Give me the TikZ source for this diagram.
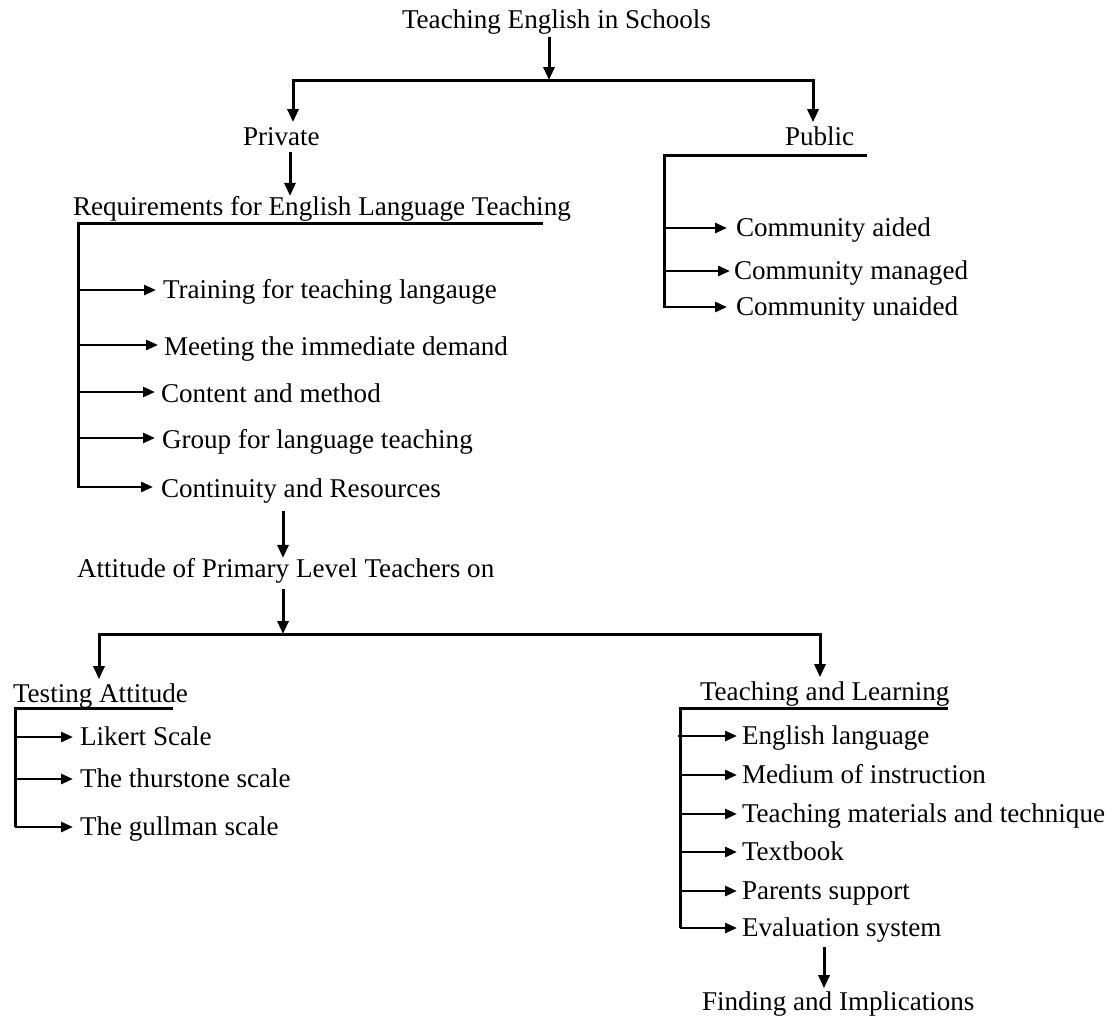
\documentclass[tikz,border=0pt]{standalone}
\usepackage{fontspec}
\setmainfont{Liberation Serif}
\usetikzlibrary{arrows.meta}
\begin{document}
\begin{tikzpicture}[x=1pt,y=-1pt,
  txt/.style={inner sep=0pt,outer sep=0pt,anchor=base west,font=\fontsize{27.1pt}{32pt}\selectfont},
  ln/.style={line width=3pt,line join=miter},
  varr/.style={line width=3pt,line join=miter,-{Triangle[length=13pt,width=11pt]}},
  harr/.style={line width=2.7pt,-{Triangle[length=12pt,width=10pt]}}]
\useasboundingbox (0,0) rectangle (1116,1017);

% ---------- text nodes ----------
\node[txt] (title)   at (402,28)  {Teaching English in Schools};
\node[txt] (private) at (243,145) {Private};
\node[txt] (public)  at (785,145) {Public};
\node[txt] (req)     at (73,215)  {Requirements for English Language Teaching};
\node[txt] (r1) at (163,298) {Training for teaching langauge};
\node[txt] (r2) at (164,355) {Meeting the immediate demand};
\node[txt] (r3) at (161,402) {Content and method};
\node[txt] (r4) at (162,448) {Group for language teaching};
\node[txt] (r5) at (161,497) {Continuity and Resources};
\node[txt] (p1) at (736,236) {Community aided};
\node[txt] (p2) at (734,279) {Community managed};
\node[txt] (p3) at (736,315) {Community unaided};
\node[txt] (att)  at (77,577)  {Attitude of Primary Level Teachers on};
\node[txt] (test) at (13,702)  {Testing Attitude};
\node[txt] (t1) at (80,745) {Likert Scale};
\node[txt] (t2) at (80,787) {The thurstone scale};
\node[txt] (t3) at (80,835) {The gullman scale};
\node[txt] (tl) at (700,700) {Teaching and Learning};
\node[txt] (l1) at (742,744) {English language};
\node[txt] (l2) at (742,783) {Medium of instruction};
\node[txt] (l3) at (742,822) {Teaching materials and technique};
\node[txt] (l4) at (742,860) {Textbook};
\node[txt] (l5) at (742,899) {Parents support};
\node[txt] (l6) at (742,936) {Evaluation system};
\node[txt] (find) at (702,1010) {Finding and Implications};

% ---------- junction coordinates ----------
\coordinate (j1) at (549,80);
\coordinate (bL) at (293,80);
\coordinate (bR) at (813,80);
\coordinate (c2) at (290,0);
\coordinate (rqe) at (543,223);
\coordinate (rqc) at (78,223);
\coordinate (rqb) at (78,488);
\coordinate (pue) at (867,155);
\coordinate (puc) at (664,155);
\coordinate (pub) at (664,308);
\coordinate (c3) at (283,0);
\coordinate (j2) at (283,634);
\coordinate (b2L) at (99,634);
\coordinate (b2R) at (820,634);
\coordinate (tue) at (173,708);
\coordinate (tuc) at (15,708);
\coordinate (tub) at (15,827);
\coordinate (lue) at (948,708);
\coordinate (luc) at (680,708);
\coordinate (lub) at (680,928);
\coordinate (c4) at (824,0);

% ---------- arrow tip coordinates ----------
\coordinate (r1t) at ([xshift=-7pt,yshift=8pt]r1.base west);
\coordinate (r2t) at ([xshift=-6pt,yshift=10pt]r2.base west);
\coordinate (r3t) at ([xshift=-6pt,yshift=10pt]r3.base west);
\coordinate (r4t) at ([xshift=-7pt,yshift=10pt]r4.base west);
\coordinate (r5t) at ([xshift=-8pt,yshift=10pt]r5.base west);
\coordinate (p1t) at ([xshift=-9pt,yshift=8pt]p1.base west);
\coordinate (p2t) at ([xshift=-4pt,yshift=8pt]p2.base west);
\coordinate (p3t) at ([xshift=-9pt,yshift=8pt]p3.base west);
\coordinate (t1t) at ([xshift=-7pt,yshift=8pt]t1.base west);
\coordinate (t2t) at ([xshift=-7pt,yshift=8pt]t2.base west);
\coordinate (t3t) at ([xshift=-7pt,yshift=8pt]t3.base west);
\coordinate (l1t) at ([xshift=-5pt,yshift=8pt]l1.base west);
\coordinate (l2t) at ([xshift=-5pt,yshift=8pt]l2.base west);
\coordinate (l3t) at ([xshift=-5pt,yshift=8pt]l3.base west);
\coordinate (l4t) at ([xshift=-5pt,yshift=8pt]l4.base west);
\coordinate (l5t) at ([xshift=-5pt,yshift=8pt]l5.base west);
\coordinate (l6t) at ([xshift=-5pt,yshift=8pt]l6.base west);

% ---------- top level ----------
\draw[varr,shorten <=3pt] (j1 |- title.south) -- (j1);
\draw[varr,shorten >=5pt] (j1) -- (bL) -- (bL |- private.north);
\draw[varr,shorten >=4pt] (j1) -- (bR) -- (bR |- public.north);
\draw[varr,shorten <=7pt] (c2 |- private.south) -- (c2 |- req.north);

% ---------- requirements ----------
\draw[ln] (rqe) -- (rqc) -- (rqb);
\draw[harr] (rqc |- r1t) -- (r1t);
\draw[harr] (rqc |- r2t) -- (r2t);
\draw[harr] (rqc |- r3t) -- (r3t);
\draw[harr] (rqc |- r4t) -- (r4t);
\draw[harr] (rqc |- r5t) -- (r5t);

% ---------- public ----------
\draw[ln] (pue) -- (puc) -- (pub);
\draw[harr] (puc |- p1t) -- (p1t);
\draw[harr] ([xshift=2pt]puc |- p2t) -- (p2t);
\draw[harr] (puc |- p3t) -- (p3t);

% ---------- attitude ----------
\draw[varr,shorten <=8pt] (c3 |- r5.south) -- (c3 |- att.north);
\draw[varr,shorten <=6pt] (c3 |- att.south) -- (j2);
\draw[varr,shorten >=4pt] (j2) -- (b2L) -- (b2L |- test.north);
\draw[varr,shorten >=4pt] (j2) -- (b2R) -- (b2R |- tl.north);

% ---------- testing attitude ----------
\draw[ln] (tue) -- (tuc) -- (tub);
\draw[harr] (tuc |- t1t) -- (t1t);
\draw[harr] (tuc |- t2t) -- (t2t);
\draw[harr] (tuc |- t3t) -- (t3t);

% ---------- teaching and learning ----------
\draw[ln] (lue) -- (luc) -- (lub);
\draw[harr] ([xshift=-2pt]luc |- l1t) -- (l1t);
\draw[harr] (luc |- l2t) -- (l2t);
\draw[harr] (luc |- l3t) -- (l3t);
\draw[harr] (luc |- l4t) -- (l4t);
\draw[harr] (luc |- l5t) -- (l5t);
\draw[harr] (luc |- l6t) -- (l6t);
\draw[varr,shorten <=5pt,shorten >=3pt] (c4 |- l6.south) -- (c4 |- find.north);
\end{tikzpicture}
\end{document}
